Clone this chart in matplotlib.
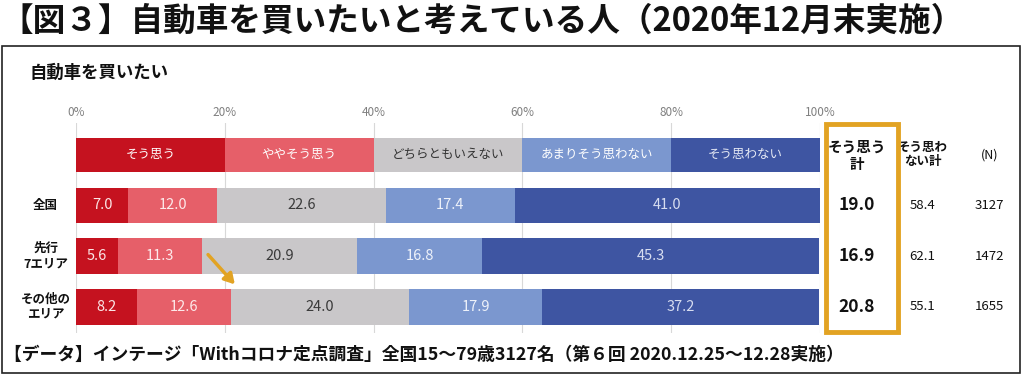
import matplotlib
matplotlib.use("Agg")
import matplotlib.pyplot as plt
from matplotlib.patches import Rectangle

plt.rcParams["font.family"] = ["Noto Sans CJK JP", "DejaVu Sans"]

# --- data ---
categories = ["そう思う", "ややそう思う", "どちらともいえない", "あまりそう思わない", "そう思わない"]
rows = ["全国", "先行\n7エリア", "その他の\nエリア"]
strong_yes = [7.0, 5.6, 8.2]
yes = [12.0, 11.3, 12.6]
neutral = [22.6, 20.9, 24.0]
no = [17.4, 16.8, 17.9]
strong_no = [41.0, 45.3, 37.2]
total_yes = ["19.0", "16.9", "20.8"]
total_no = ["58.4", "62.1", "55.1"]
n_count = ["3127", "1472", "1655"]
ticks = [0, 20, 40, 60, 80, 100]

colors = ["#c5121f", "#e65f69", "#c9c7c9", "#7b97cf", "#3e55a2"]
txt_colors = ["#fbe6e6", "#fde9ea", "#3a3a3a", "#eef2fa", "#d7ddf0"]
head_colors = ["white", "white", "#333333", "white", "#e6eaf5"]
ORANGE = "#e2a323"

W, H = 1033, 375
fig = plt.figure(figsize=(W / 100, H / 100), dpi=100)

# frame + titles
fig.patches.append(Rectangle((2 / W, 1 - 373 / H), 1018 / W, 327 / H, transform=fig.transFigure,
                             fill=False, ec="#222222", lw=1.2))
fig.text(0 / W, 1 - 21 / H, "【図３】自動車を買いたいと考えている人（2020年12月末実施）",
         fontsize=23.5, fontweight="bold", va="center", ha="left", color="#111111")
fig.text(30 / W, 1 - 73 / H, "自動車を買いたい", fontsize=12.5, fontweight="bold",
         va="center", ha="left", color="#111111")
fig.text(4 / W, 1 - 355 / H,
         "【データ】インテージ「Withコロナ定点調査」全国15～79歳3127名（第６回 2020.12.25～12.28実施）",
         fontsize=12.8, fontweight="bold", va="center", ha="left", color="#111111")

# bar axes: x 0..100 mapped to px 76..820, rows every ~50px
ax = fig.add_axes([76 / W, 1 - 333 / H, 744 / W, 210 / H])
ax.set_xlim(0, 100)
ax.set_ylim(3.52, -0.63)
for s in ax.spines.values():
    s.set_visible(False)
ax.set_yticks([])
ax.set_xticks(ticks)
ax.set_xticklabels([f"{t}%" for t in ticks])
ax.xaxis.tick_top()
ax.tick_params(axis="x", length=0, pad=3, labelsize=8.5, labelcolor="#808080")
ax.grid(axis="x", color="#d8d8d8", lw=0.8, zorder=0)
ax.set_axisbelow(True)

# header legend bands
for i, (cat, c) in enumerate(zip(categories, colors)):
    ax.barh(0, 20, left=i * 20, height=0.68, color=c, zorder=2)
    ax.text(i * 20 + 10, 0, cat, ha="center", va="center", fontsize=9,
            color=head_colors[i], zorder=3)

# stacked rows
series = [strong_yes, yes, neutral, no, strong_no]
ypos = [1, 2, 3]
for r, y in enumerate(ypos):
    left = 0
    for k, vals in enumerate(series):
        v = vals[r]
        ax.barh(y, v, left=left, height=0.71, color=colors[k], zorder=2)
        ax.text(left + v / 2, y, f"{v:.1f}", ha="center", va="center", fontsize=10.5,
                color=txt_colors[k], zorder=3)
        left += v
    ax.text(-4.1, y, rows[r], ha="center", va="center", fontsize=9, fontweight="bold",
            color="#111111", linespacing=1.2, clip_on=False)
    ax.text(104.9, y, total_yes[r], ha="center", va="center", fontsize=12.5,
            fontweight="bold", color="#111111", clip_on=False)
    ax.text(113.8, y, total_no[r], ha="center", va="center", fontsize=9.5,
            color="#111111", clip_on=False)
    ax.text(122.8, y, n_count[r], ha="center", va="center", fontsize=9.5,
            color="#111111", clip_on=False)

# right-side headers
ax.text(104.9, 0, "そう思う\n計", ha="center", va="center", fontsize=10.5, fontweight="bold",
        color="#111111", linespacing=1.1, clip_on=False)
ax.text(113.8, 0, "そう思わ\nない計", ha="center", va="center", fontsize=9, fontweight="bold",
        color="#111111", linespacing=1.1, clip_on=False)
ax.text(122.8, 0, "(N)", ha="center", va="center", fontsize=9, color="#111111", clip_on=False)

# orange box around そう思う計
ax.add_patch(Rectangle((100.8, -0.62), 9.7, 4.12, fill=False, ec=ORANGE, lw=3.5,
                       clip_on=False, zorder=4))

# arrow
ax.annotate("", xy=(21.6, 2.6), xytext=(17.5, 1.93),
            arrowprops=dict(arrowstyle="-|>,head_width=0.35,head_length=0.6",
                            color=ORANGE, lw=2.5), zorder=5)

fig.savefig("out.png", dpi=100, facecolor="white")
